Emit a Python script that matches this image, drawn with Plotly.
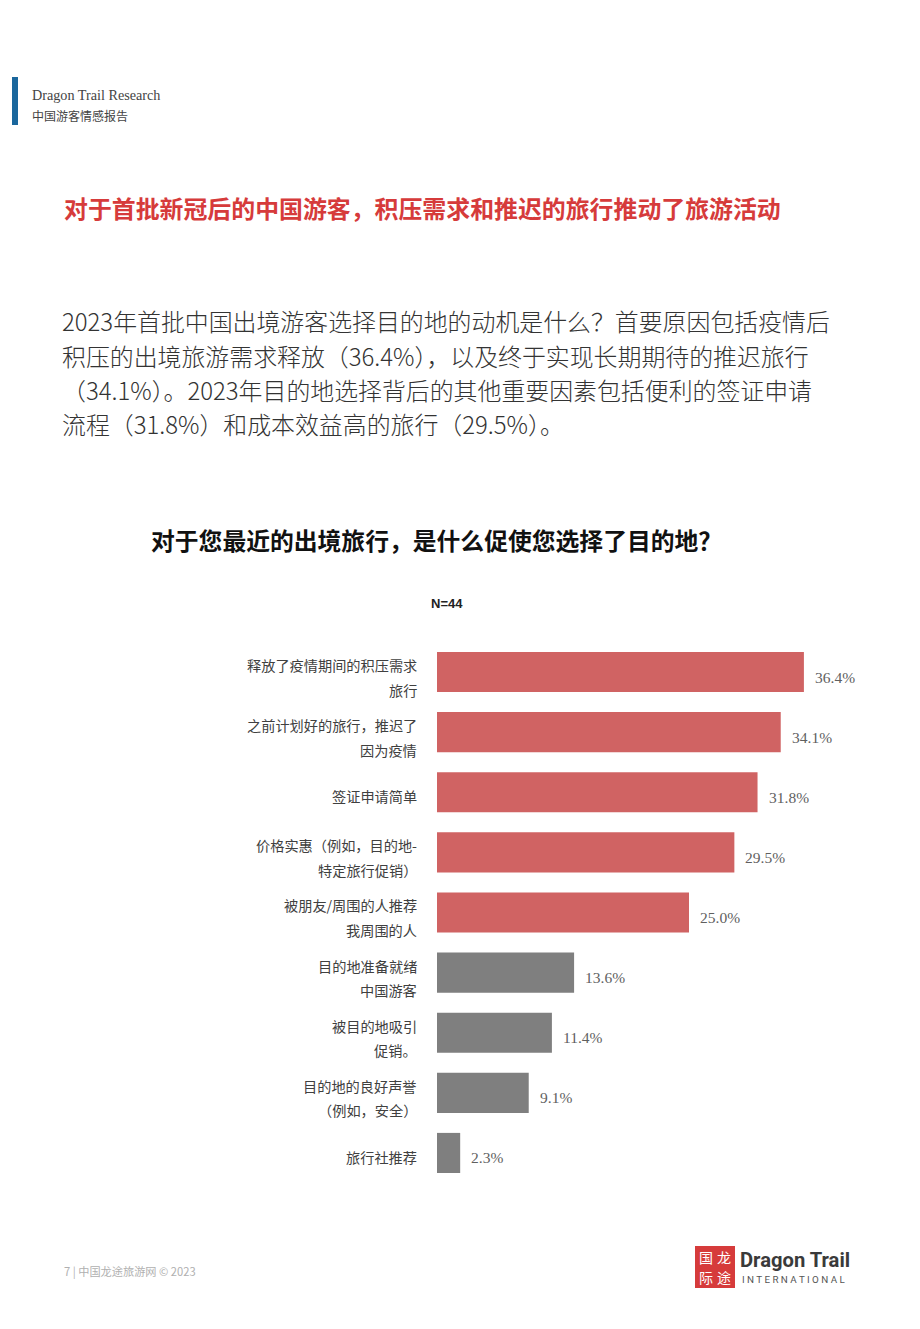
import plotly.graph_objects as go

W, H = 920, 1329

# ---------------- data ----------------
categories = [
    "释放了疫情期间的积压需求<br>旅行",
    "之前计划好的旅行，推迟了<br>因为疫情",
    "签证申请简单",
    "价格实惠（例如，目的地-<br>特定旅行促销）",
    "被朋友/周围的人推荐<br>我周围的人",
    "目的地准备就绪<br>中国游客",
    "被目的地吸引<br>促销。",
    "目的地的良好声誉<br>（例如，安全）",
    "旅行社推荐",
]
values = [36.4, 34.1, 31.8, 29.5, 25.0, 13.6, 11.4, 9.1, 2.3]
highlight = [True, True, True, True, True, False, False, False, False]
value_labels = [f"{v:.1f}%" for v in values]

header_title = "Dragon Trail Research"
header_sub = "中国游客情感报告"
headline = "对于首批新冠后的中国游客，积压需求和推迟的旅行推动了旅游活动"
paragraph = [
    "2023年首批中国出境游客选择目的地的动机是什么？首要原因包括疫情后",
    "积压的出境旅游需求释放（36.4%），以及终于实现长期期待的推迟旅行",
    "（34.1%）。2023年目的地选择背后的其他重要因素包括便利的签证申请",
    "流程（31.8%）和成本效益高的旅行（29.5%）。",
]
chart_title = "对于您最近的出境旅行，是什么促使您选择了目的地？"
sample_note = "N=44"
footer = "7 | 中国龙途旅游网 © 2023"

RED = "#d06363"
GREY = "#7f7f7f"
ACCENT = "#d63b3b"
BLUE = "#1a679d"

CJK = "Noto Sans CJK SC"


def px(x):
    return x / W


def py(y):
    return 1 - y / H


bar_colors = [RED if h else GREY for h in highlight]

fig = go.Figure()
fig.add_trace(
    go.Bar(
        x=values,
        y=categories,
        orientation="h",
        marker=dict(color=bar_colors, line=dict(width=0)),
        width=0.667,
        hoverinfo="skip",
        showlegend=False,
    )
)

annotations = []

# value labels
for cat, v, lab in zip(categories, values, value_labels):
    annotations.append(
        dict(
            x=v, y=cat, xref="x", yref="y", text=lab, showarrow=False,
            xanchor="left", yanchor="middle", xshift=9, yshift=-5,
            font=dict(family="Liberation Serif", size=15.5, color="#5f5f5f"),
        )
    )

# category labels (each line placed separately for wider line spacing)
for cat in categories:
    lines = cat.split("<br>")
    if len(lines) == 1:
        shifts = [-4]
    else:
        shifts = [7, -17.5]
    for ln, sh in zip(lines, shifts):
        annotations.append(
            dict(
                x=px(419), y=cat, xref="paper", yref="y", text=ln, showarrow=False,
                xanchor="right", yanchor="middle", yshift=sh,
                font=dict(family=CJK, size=14.2, color="#404040"),
            )
        )

# header
annotations += [
    dict(x=px(30), y=py(95), xref="paper", yref="paper", text=header_title,
         showarrow=False, xanchor="left", yanchor="middle",
         font=dict(family="Liberation Serif", size=14.2, color="#444444")),
    dict(x=px(30), y=py(115), xref="paper", yref="paper", text=header_sub,
         showarrow=False, xanchor="left", yanchor="middle",
         font=dict(family=CJK, size=12, color="#444444")),
    dict(x=px(62), y=py(207.5), xref="paper", yref="paper", text=f"<b>{headline}</b>",
         showarrow=False, xanchor="left", yanchor="middle",
         font=dict(family=CJK, size=23.9, color=ACCENT)),
]
for i, line in enumerate(paragraph):
    annotations.append(
        dict(x=px(60), y=py(321 + i * 34.3), xref="paper", yref="paper", text=line,
             showarrow=False, xanchor="left", yanchor="middle",
             font=dict(family=CJK, size=23.9, color="#333333", weight=300))
    )
annotations += [
    dict(x=px(436), y=py(539), xref="paper", yref="paper", text=f"<b>{chart_title}</b>",
         showarrow=False, xanchor="center", yanchor="middle",
         font=dict(family=CJK, size=23.8, color="#111111")),
    dict(x=px(447), y=py(603), xref="paper", yref="paper", text=f"<b>{sample_note}</b>",
         showarrow=False, xanchor="center", yanchor="middle",
         font=dict(family="Liberation Sans", size=13, color="#222222")),
    dict(x=px(62), y=py(1271), xref="paper", yref="paper", text=footer,
         showarrow=False, xanchor="left", yanchor="middle",
         font=dict(family=CJK, size=11.2, color="#b0b0b0")),
    # logo
    dict(x=px(706), y=py(1257), xref="paper", yref="paper", text="国", showarrow=False,
         xanchor="center", yanchor="middle", font=dict(family=CJK, size=14, color="white")),
    dict(x=px(724), y=py(1257), xref="paper", yref="paper", text="龙", showarrow=False,
         xanchor="center", yanchor="middle", font=dict(family=CJK, size=14, color="white")),
    dict(x=px(706), y=py(1277), xref="paper", yref="paper", text="际", showarrow=False,
         xanchor="center", yanchor="middle", font=dict(family=CJK, size=14, color="white")),
    dict(x=px(724), y=py(1277), xref="paper", yref="paper", text="途", showarrow=False,
         xanchor="center", yanchor="middle", font=dict(family=CJK, size=14, color="white")),
    dict(x=px(738), y=py(1260), xref="paper", yref="paper", text="<b>Dragon Trail</b>",
         showarrow=False, xanchor="left", yanchor="middle",
         font=dict(family="Roboto", size=20.2, color="#3a3a3a")),
    dict(x=px(740), y=py(1279), xref="paper", yref="paper",
         text=" ".join("INTERNATIONAL"), showarrow=False, xanchor="left", yanchor="middle",
         font=dict(family="Roboto", size=9.8, color="#555555")),
]

shapes = [
    dict(type="rect", xref="paper", yref="paper", x0=px(12), x1=px(18), y0=py(77), y1=py(125),
         fillcolor=BLUE, line=dict(width=0)),
    dict(type="rect", xref="paper", yref="paper", x0=px(695), x1=px(735), y0=py(1246), y1=py(1288),
         fillcolor=ACCENT, line=dict(width=0)),
]

fig.update_layout(
    width=W, height=H,
    margin=dict(l=0, r=0, t=0, b=0),
    paper_bgcolor="white", plot_bgcolor="white",
    xaxis=dict(domain=[px(437), px(437 + 45 * 10.08)], range=[0, 45],
               visible=False, showgrid=False, zeroline=False, fixedrange=True),
    yaxis=dict(domain=[py(1183), py(642)], type="category",
               categoryorder="array", categoryarray=categories,
               range=[len(categories) - 0.5, -0.5],
               showticklabels=False, showgrid=False, zeroline=False, showline=False,
               ticks="", fixedrange=True),
    annotations=annotations,
    shapes=shapes,
    bargap=0.33,
)

fig.write_html("out.html")
